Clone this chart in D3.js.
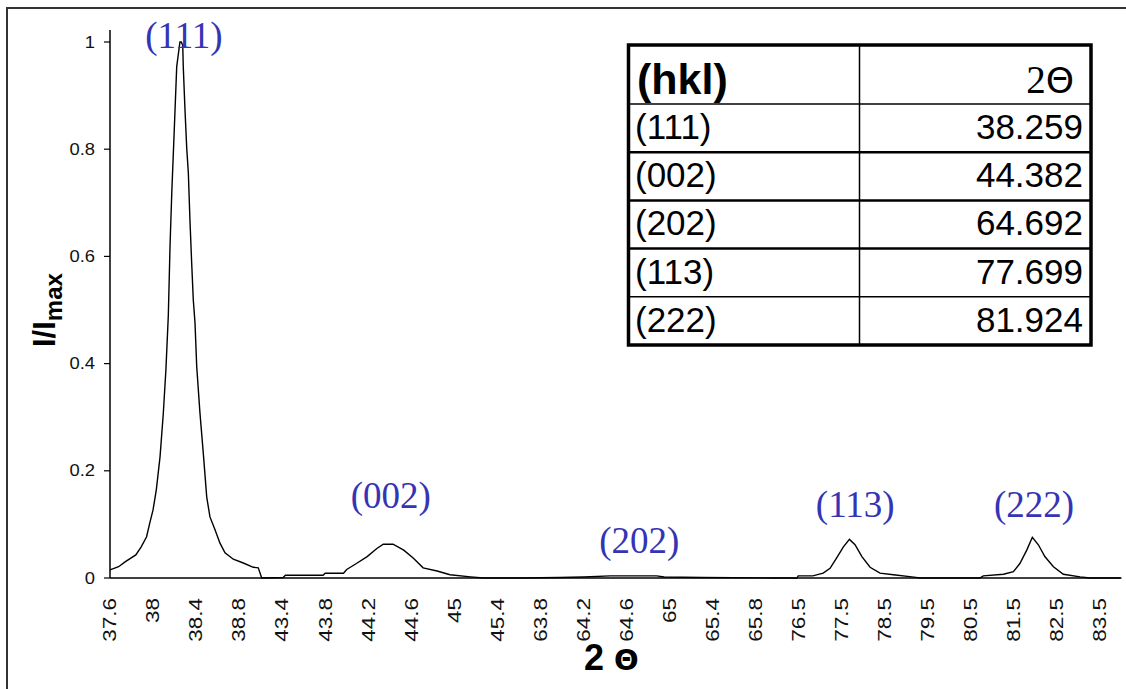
<!DOCTYPE html>
<html>
<head>
<meta charset="utf-8">
<script src="https://cdn.jsdelivr.net/npm/d3@7"></script>
<style>
  body { margin: 0; background: #fff; }
  svg { display: block; }
</style>
</head>
<body>
<div id="xrd"></div>
<script>
// 2theta / intensity (broken axis, 4 windows)
var twoTheta = [
  37.60, 37.68, 37.74, 37.84, 37.89, 37.94, 37.97, 38.00, 38.03, 38.065, 38.095, 38.12, 38.142,
  38.158, 38.174, 38.198, 38.22, 38.25, 38.262, 38.276, 38.281, 38.297, 38.313, 38.328, 38.343,
  38.359, 38.374, 38.39, 38.406, 38.436, 38.467, 38.499, 38.529, 38.576, 38.622, 38.669, 38.746,
  38.839, 38.932, 38.978,
  43.21, 43.41, 43.43, 43.78, 43.80, 43.97, 44.00, 44.09, 44.19, 44.28, 44.34, 44.43, 44.53,
  44.62, 44.71, 44.84, 44.96, 45.15, 45.27, 45.58,
  63.62, 63.98, 64.20, 64.45, 64.88, 64.95, 65.30, 65.98,
  76.02, 76.46, 76.49, 76.83, 77.07, 77.23, 77.38, 77.54, 77.68, 77.81, 77.97, 78.16, 78.39,
  78.70, 79.13, 79.32, 80.71, 80.79, 81.26, 81.49, 81.64, 81.80, 81.93, 82.07, 82.22, 82.42,
  82.65, 83.04, 83.27, 83.98
];
var intensity = [
  0.015, 0.021, 0.030, 0.043, 0.058, 0.077, 0.103, 0.127, 0.164, 0.226, 0.306, 0.390, 0.490,
  0.620, 0.718, 0.840, 0.954, 1.000, 1.000, 0.994, 0.954, 0.873, 0.802, 0.756, 0.668,
  0.588, 0.519, 0.476, 0.394, 0.308, 0.233, 0.151, 0.114, 0.090, 0.065, 0.047, 0.035,
  0.028, 0.020, 0.019,
  0.000, 0.001, 0.005, 0.005, 0.009, 0.009, 0.016, 0.027, 0.040, 0.055, 0.063, 0.063, 0.052,
  0.037, 0.019, 0.013, 0.006, 0.002, 0.000, 0.000,
  0.000, 0.001, 0.002, 0.004, 0.004, 0.002, 0.001, 0.000,
  0.000, 0.000, 0.004, 0.004, 0.009, 0.018, 0.037, 0.058, 0.072, 0.062, 0.040, 0.020, 0.009,
  0.006, 0.002, 0.000, 0.000, 0.004, 0.007, 0.012, 0.027, 0.052, 0.076, 0.062, 0.040, 0.021,
  0.007, 0.002, 0.000, 0.000
];

// axis windows [from, to, degrees per label]
var windows = [[37.6, 39.0, 0.4], [43.2, 45.6, 0.4], [63.6, 66.0, 0.4], [76.0, 84.0, 1]];
var xTicks = [37.6, 38, 38.4, 38.8, 43.4, 43.8, 44.2, 44.6, 45, 45.4, 63.8, 64.2, 64.6, 65,
  65.4, 65.8, 76.5, 77.5, 78.5, 79.5, 80.5, 81.5, 82.5, 83.5];
var yTicks = [0, 0.2, 0.4, 0.6, 0.8, 1];

// reflection table
var hkl = ["(111)", "(002)", "(202)", "(113)", "(222)"];
var peakAngle = ["38.259", "44.382", "64.692", "77.699", "81.924"];

var width = 1126;
var height = 689;
var left = 110;
var labelStep = 43.04;   // px between two axis labels
var top0 = 42, bottom0 = 578;

var svg = d3.select("#xrd")
  .append("svg")
  .attr("width", width)
  .attr("height", height);

svg.append("rect")
  .attr("width", width)
  .attr("height", height)
  .attr("fill", "#fff");

//outer frame (right/bottom fall off the picture)
svg.append("rect")
  .attr("x", 7)
  .attr("y", 8)
  .attr("width", width + 20)
  .attr("height", height + 20)
  .attr("fill", "none")
  .attr("stroke", "#333")
  .attr("stroke-width", 2);

//broken x scale built from the windows
var dom = [], rng = [], pos = left;
windows.forEach(function (w) {
  dom.push(w[0]);
  rng.push(pos);
  pos += (w[1] - w[0]) / w[2] * labelStep;
  dom.push(w[1]);
  rng.push(pos);
});
var x = d3.scaleLinear().domain(dom).range(rng);
var y = d3.scaleLinear().domain([0, 1]).range([bottom0, top0]);

//y axis
svg.append("line")
  .attr("x1", left).attr("x2", left)
  .attr("y1", y(1) - 12).attr("y2", y(0))
  .attr("stroke", "#000").attr("stroke-width", 1.5);

yTicks.forEach(function (t) {
  svg.append("line")
    .attr("x1", left - 6).attr("x2", left)
    .attr("y1", y(t)).attr("y2", y(t))
    .attr("stroke", "#000").attr("stroke-width", 1.2);
  svg.append("text")
    .attr("transform", "translate(" + (left - 15) + "," + y(t) + ") scale(1.15,1)")
    .attr("text-anchor", "end")
    .attr("dy", "0.35em")
    .style("font-family", "Liberation Sans, Arial, sans-serif")
    .style("font-size", "16px")
    .style("fill", "#111")
    .text(d3.format("~g")(t));
});

//x axis
svg.append("line")
  .attr("x1", left).attr("x2", x(84))
  .attr("y1", y(0)).attr("y2", y(0))
  .attr("stroke", "#000").attr("stroke-width", 1.5);

xTicks.forEach(function (t) {
  svg.append("text")
    .attr("transform", "translate(" + x(t) + ",598) rotate(-90) scale(1.25,1)")
    .attr("text-anchor", "end")
    .attr("dy", "0.35em")
    .style("font-family", "Liberation Sans, Arial, sans-serif")
    .style("font-size", "18px")
    .style("fill", "#111")
    .text(t);
});

//the scan itself
var pts = twoTheta.map(function (t, i) { return [t, intensity[i]]; });
var line = d3.line()
  .x(function (d) { return x(d[0]); })
  .y(function (d) { return y(d[1]); });

svg.append("path")
  .datum(pts)
  .attr("d", line)
  .attr("fill", "none")
  .attr("stroke", "#000")
  .attr("stroke-width", 1.4);

//axis titles
var yt = svg.append("text")
  .attr("transform", "translate(55,347) rotate(-90)")
  .style("font-family", "Liberation Sans, Arial, sans-serif")
  .style("font-weight", "bold")
  .style("font-size", "31px");
yt.append("tspan").text("I/I");
yt.append("tspan")
  .attr("dy", 7)
  .style("font-size", "24px")
  .text("max");

var xt = svg.append("text")
  .attr("x", 584)
  .attr("y", 670)
  .style("font-family", "Liberation Sans, Arial, sans-serif")
  .style("font-weight", "bold");
xt.append("tspan").style("font-size", "36px").text("2 ");
xt.append("tspan")
  .style("font-family", "DejaVu Sans, sans-serif")
  .style("font-size", "29px")
  .text("Θ");

//peak labels, nudged by hand like in the original
var nudge = [{ dx: 3, dy: 6 }, { dx: 3, dy: -36 }, { dx: 3, dy: -23 }, { dx: 5, dy: -22 }, { dx: 2, dy: -20 }];
hkl.forEach(function (h, i) {
  var a = +peakAngle[i];
  var near = pts.filter(function (d) { return Math.abs(d[0] - a) < 0.3; });
  var top = d3.max(near, function (d) { return d[1]; });
  svg.append("text")
    .attr("x", x(a) + nudge[i].dx)
    .attr("y", y(top) + nudge[i].dy)
    .attr("text-anchor", "middle")
    .style("font-family", "Liberation Serif, Times New Roman, serif")
    .style("font-size", "37px")
    .style("fill", "#3434b4")
    .text(h);
});

//table
var tx0 = 628.5, tx1 = 1091, tcol = 859.5, ty0 = 45, headH = 59, rowH = 48.2;
var ty1 = ty0 + headH + rowH * hkl.length;

svg.append("rect")
  .attr("x", tx0).attr("y", ty0)
  .attr("width", tx1 - tx0).attr("height", ty1 - ty0)
  .attr("fill", "#fff")
  .attr("stroke", "#000")
  .attr("stroke-width", 3.5);

svg.append("line")
  .attr("x1", tcol).attr("x2", tcol)
  .attr("y1", ty0).attr("y2", ty1)
  .attr("stroke", "#000").attr("stroke-width", 1.5);

hkl.forEach(function (h, i) {
  var ry = ty0 + headH + rowH * i;
  svg.append("line")
    .attr("x1", tx0).attr("x2", tx1)
    .attr("y1", ry).attr("y2", ry)
    .attr("stroke", "#000")
    .attr("stroke-width", (i == 0 || i == 4) ? 1.5 : 2.5);

  svg.append("text")
    .attr("x", 635)
    .attr("y", ry + 35)
    .style("font-family", "Liberation Sans, Arial, sans-serif")
    .style("font-size", "35px")
    .text(h);

  svg.append("text")
    .attr("x", 1083)
    .attr("y", ry + 35)
    .attr("text-anchor", "end")
    .style("font-family", "Liberation Sans, Arial, sans-serif")
    .style("font-size", "35px")
    .text(peakAngle[i]);
});

//header row
svg.append("text")
  .attr("x", 637)
  .attr("y", ty0 + 49)
  .style("font-family", "Liberation Sans, Arial, sans-serif")
  .style("font-weight", "bold")
  .style("font-size", "43px")
  .text("(hkl)");

var hd = svg.append("text")
  .attr("x", 1074)
  .attr("y", ty0 + 48)
  .attr("text-anchor", "end");
hd.append("tspan")
  .style("font-family", "Liberation Serif, Times New Roman, serif")
  .style("font-size", "39px")
  .text("2");
hd.append("tspan")
  .style("font-family", "DejaVu Sans, sans-serif")
  .style("font-size", "36px")
  .text("Θ");
</script>
</body>
</html>
